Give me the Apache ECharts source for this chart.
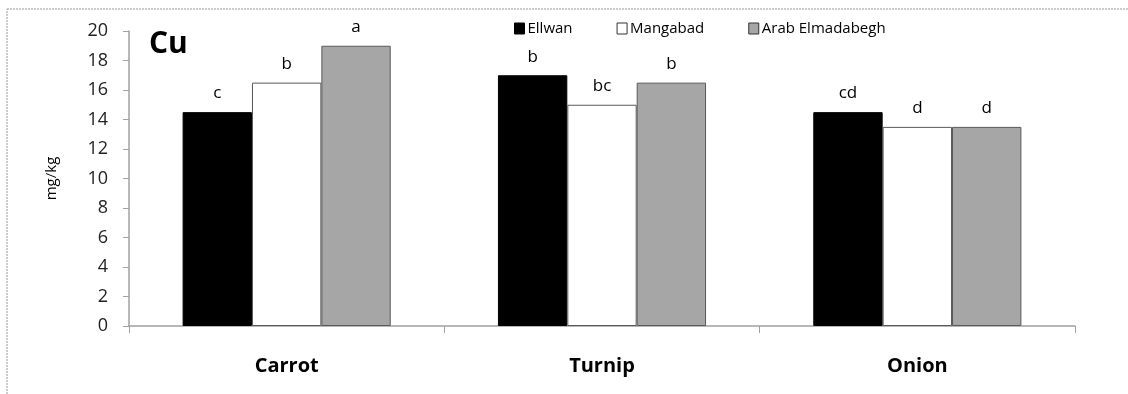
<!DOCTYPE html>
<html><head><meta charset="utf-8">
<script src="https://cdn.jsdelivr.net/npm/echarts@6/dist/echarts.min.js"></script>
<style>html,body{margin:0;padding:0;background:#fff}#c{width:1128px;height:394px}</style>
</head><body><div id="c"></div>
<script>
const categories = ['Carrot', 'Turnip', 'Onion'];
const seriesNames = ['Ellwan', 'Mangabad', 'Arab Elmadabegh'];
const ellwan = [14.5, 17, 14.5];
const mangabad = [16.5, 15, 13.5];
const arab = [19, 16.5, 13.5];
const ellwanLetters = ['c', 'b', 'cd'];
const mangabadLetters = ['b', 'bc', 'd'];
const arabLetters = ['a', 'b', 'd'];
const yTicks = [0, 2, 4, 6, 8, 10, 12, 14, 16, 18, 20];

const font = '"Open Sans", "Noto Sans", sans-serif';
const fills = ['#000000', '#ffffff', '#a6a6a6'];
const borders = ['#000000', '#595959', '#595959'];
const values = [ellwan, mangabad, arab];
const letters = [ellwanLetters, mangabadLetters, arabLetters];

const chart = echarts.init(document.getElementById('c'));
chart.setOption({
  animation: false,
  graphic: [
    { type: 'rect', shape: { x: 7, y: 9, width: 1200, height: 500 }, style: { fill: 'none', stroke: '#9a9a9a', lineWidth: 1, lineDash: [2, 1] } },
    { type: 'text', left: 149, top: 29, style: { text: 'Cu', font: 'bold 30px ' + font, fill: '#000' } }
  ],
  legend: {
    top: 16, left: 509, itemGap: 44, itemWidth: 10, itemHeight: 11,
    icon: 'rect',
    textStyle: { fontFamily: font, fontSize: 15, color: '#000', padding: [0, 0, 0, -2] },
    data: seriesNames.map((n, i) => ({ name: n, itemStyle: { color: fills[i], borderColor: i === 0 ? '#000' : '#333', borderWidth: 1 } }))
  },
  grid: { left: 129, right: 53, top: 31, bottom: 68 },
  xAxis: {
    type: 'category', data: categories,
    axisLine: { lineStyle: { color: '#a0a0a0', width: 1.5 } },
    axisTick: { show: true, length: 7, lineStyle: { color: '#a0a0a0' } },
    axisLabel: { margin: 30, fontFamily: font, fontSize: 20, fontWeight: 'bold', color: '#000' }
  },
  yAxis: {
    type: 'value', min: yTicks[0], max: yTicks[yTicks.length - 1], interval: 2,
    name: 'mg/kg', nameLocation: 'middle', nameGap: 70, nameRotate: 90,
    nameTextStyle: { fontFamily: font, fontSize: 15, color: '#000' },
    axisLine: { show: true, lineStyle: { color: '#a0a0a0', width: 1.5 } },
    axisTick: { show: true, length: 6, lineStyle: { color: '#a0a0a0' } },
    axisLabel: { margin: 21, fontFamily: font, fontSize: 18, color: '#222' },
    splitLine: { show: false }
  },
  series: seriesNames.map((n, i) => ({
    name: n, type: 'bar', barWidth: '22%', barGap: '0%',
    data: values[i],
    itemStyle: { color: fills[i], borderColor: borders[i], borderWidth: 1 },
    label: {
      show: true, position: 'top', distance: 10,
      fontFamily: font, fontSize: 17, color: '#000',
      formatter: p => letters[i][p.dataIndex]
    }
  }))
});
</script></body></html>
